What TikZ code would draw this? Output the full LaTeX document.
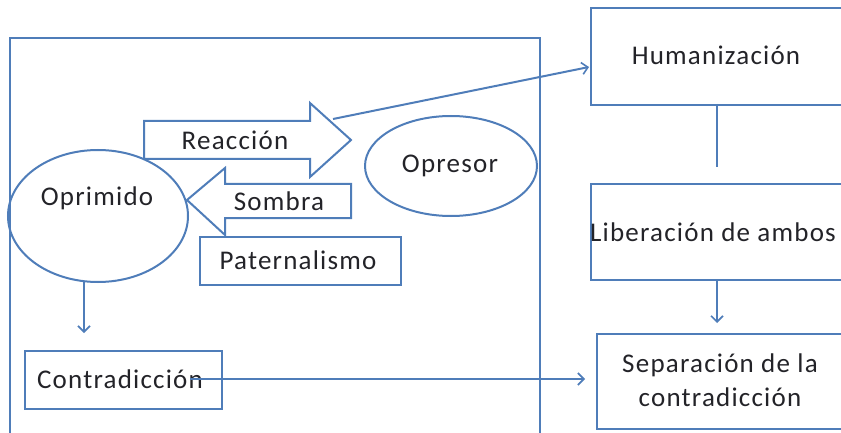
\documentclass[tikz,border=0pt]{standalone}
\usepackage{fontspec}
\setmainfont{Carlito}[LetterSpace=4.5]
\usetikzlibrary{arrows.meta,shapes.geometric}
\definecolor{lineblue}{RGB}{79,125,185}
\definecolor{txt}{RGB}{35,35,40}
\begin{document}
\begin{tikzpicture}[x=1pt,y=-1pt,
  every node/.style={text=txt,font=\fontsize{27}{34}\selectfont},
  ln/.style={draw=lineblue,line width=2pt},
  boxn/.style={ln,rectangle,inner sep=0pt,anchor=north west},
  ell/.style={ln,ellipse,inner sep=0pt},
  arr/.style={ln,-{Straight Barb[length=6pt,width=12pt,line width=1.6pt]}},
  lbl/.style={inner sep=0pt}]
\useasboundingbox (0,0) rectangle (841,433);
% container
\node[boxn,minimum width=530pt,minimum height=400pt] (big) at (9,37) {};
% right boxes
\node[boxn,minimum width=256pt,minimum height=97pt] (hum) at (590,7) {};
\node[lbl] (humt) at (716,55) {Humanización};
\node[boxn,minimum width=256pt,minimum height=96pt] (lib) at (590,183) {};
\node[lbl] (libt) at (713,232) {Liberación de ambos};
\node[boxn,minimum width=250pt,minimum height=95pt] (sep) at (596,333) {};
\node[lbl,align=center] (sept) at (720,380) {Separación de la\\contradicción};
% ellipses
\node[ell,minimum width=180pt,minimum height=132pt] (opr) at (98,216) {};
\node[lbl] (oprt) at (97,198) {Oprimido};
\node[ell,minimum width=172pt,minimum height=100pt] (opres) at (451,166) {};
\node[lbl] (opresT) at (450,166) {Opresor};
% block arrows
\draw[ln,fill=white,line join=miter] (144,121) -- (310,121) -- (310,103) -- (351,140) -- (310,177) -- (310,159) -- (144,159) -- cycle;
\node[lbl] (reac) at (235,140) {Reacción};
\draw[ln,fill=white,line join=miter] (187,200) -- (225,168) -- (225,184) -- (351,184) -- (351,218) -- (225,218) -- (225,235) -- cycle;
\node[lbl] (somb) at (279,201) {Sombra};
% boxes left
\node[boxn,minimum width=201pt,minimum height=48pt] (pat) at (199,236) {};
\node[lbl] (patt) at (298,260) {Paternalismo};
\node[boxn,minimum width=197pt,minimum height=58pt] (contra) at (24,350) {};
\node[lbl] (contrat) at (120,379) {Contradicción};
% connectors
\coordinate (rtop) at (333,119);
\coordinate (humin) at (589,67);
\draw[arr] (rtop) -- (humin);
\coordinate (oprB) at (84,281);
\draw[arr,shorten >=17pt] (oprB) -- (contra.north -| oprB);
\coordinate (cstart) at (190,379);
\draw[arr,shorten >=11pt] (cstart) -- (sep.west |- cstart);
\coordinate (hb) at (717,104);
\draw[ln,shorten >=16pt] (hb) -- (lib.north -| hb);
\coordinate (lb) at (717,279);
\draw[arr,shorten >=10pt] (lb) -- (sep.north -| lb);
\end{tikzpicture}
\end{document}
